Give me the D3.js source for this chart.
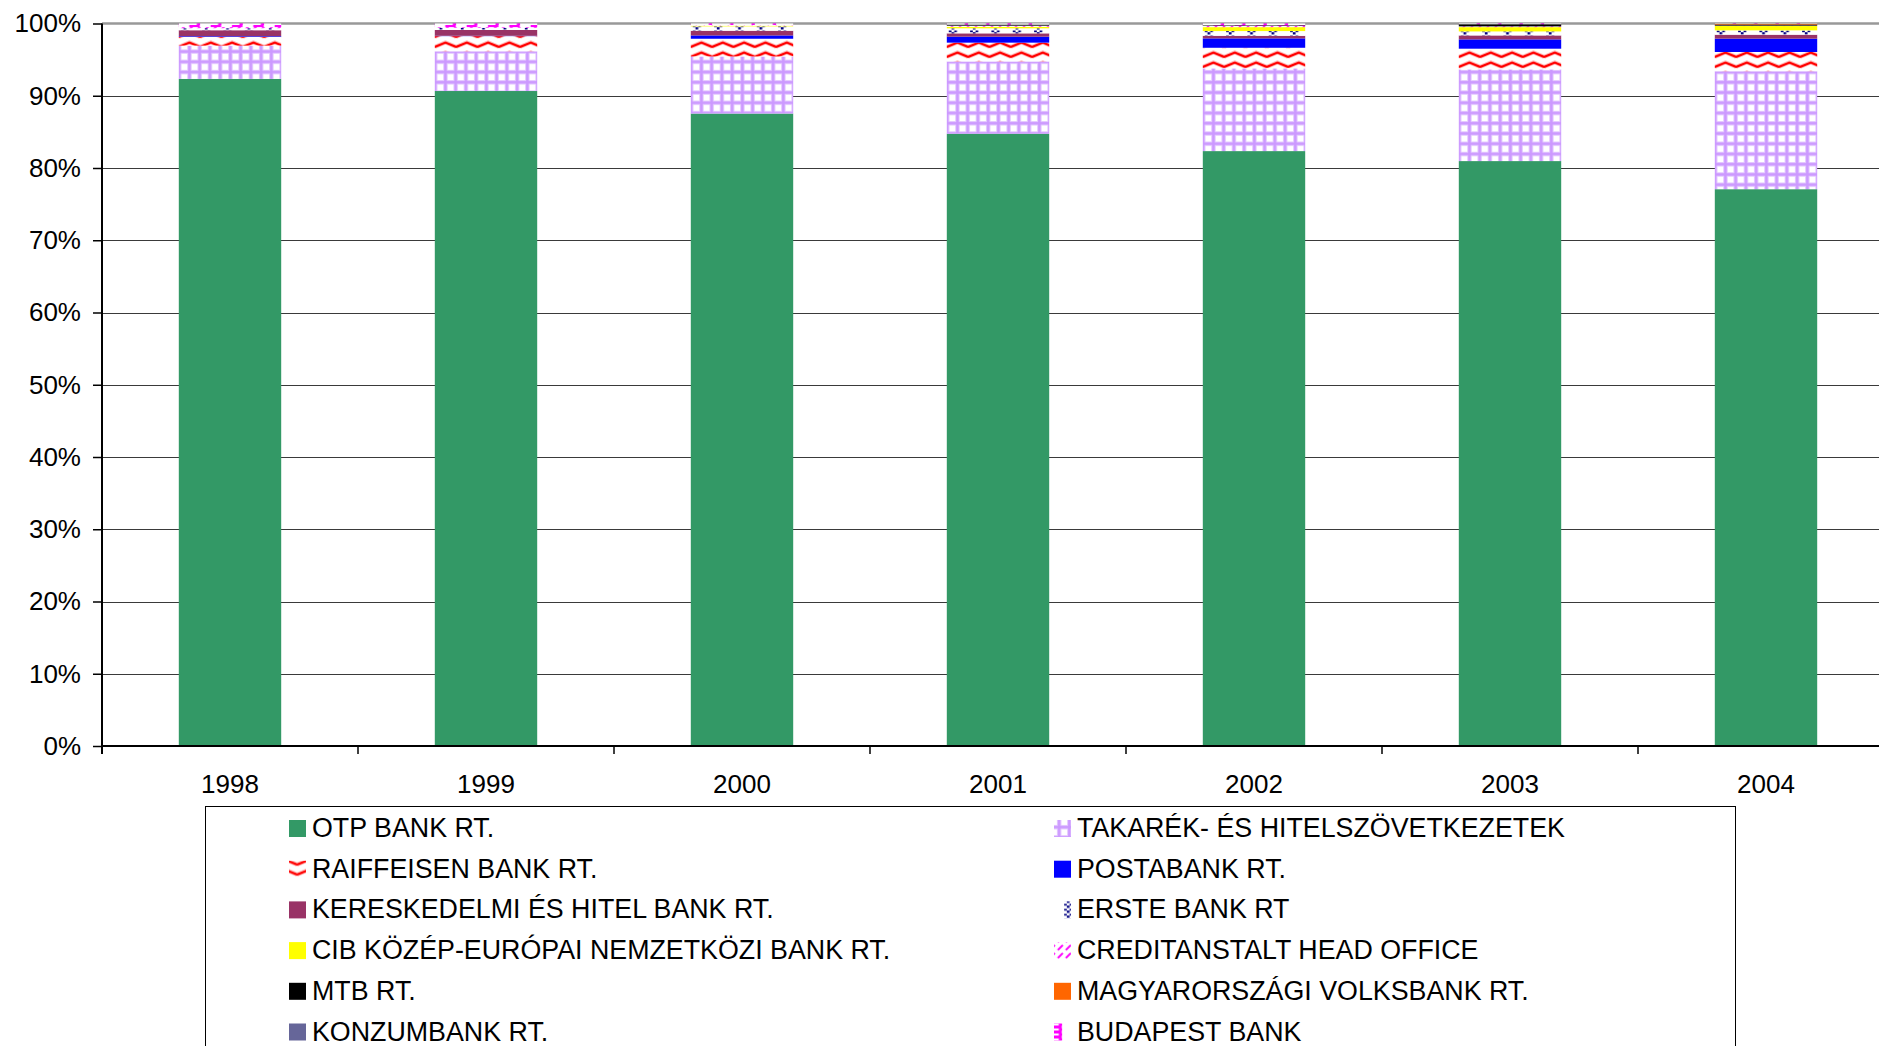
<!DOCTYPE html>
<html>
<head>
<meta charset="utf-8">
<script src="https://cdn.jsdelivr.net/npm/d3@7/dist/d3.min.js"></script>
<style>
  html, body { margin: 0; padding: 0; background: #fff; overflow: hidden; }
  svg { display: block; font-family: "Liberation Sans", Arial, sans-serif; }
</style>
</head>
<body>
<svg id="chart" width="1879" height="1046"></svg>
<script>
// ---------------- data ----------------
const years = ["1998", "1999", "2000", "2001", "2002", "2003", "2004"];
const seriesNames = [
  "OTP BANK RT.",
  "TAKARÉK- ÉS HITELSZÖVETKEZETEK",
  "RAIFFEISEN BANK RT.",
  "POSTABANK RT.",
  "KERESKEDELMI ÉS HITEL BANK RT.",
  "ERSTE BANK RT",
  "CIB KÖZÉP-EURÓPAI NEMZETKÖZI BANK RT.",
  "CREDITANSTALT HEAD OFFICE",
  "MTB RT.",
  "MAGYARORSZÁGI VOLKSBANK RT.",
  "KONZUMBANK RT.",
  "BUDAPEST BANK"
];
const otp           = [92.3, 90.7, 87.5, 84.7, 82.35, 81.0, 77.2];
const takarek       = [4.6, 5.5, 7.9, 10.0, 11.45, 12.7, 16.35];
const raiffeisen    = [1.2, 2.1, 2.45, 2.6, 2.85, 2.86, 2.67];
const postabank     = [0.1, 0.05, 0.46, 0.83, 1.3, 1.29, 1.85];
const kh            = [0.83, 0.8, 0.65, 0.46, 0.36, 0.55, 0.55];
const erste         = [0.28, 0.3, 0.6, 0.69, 0.65, 0.55, 0.6];
const cib           = [0, 0, 0.1, 0.22, 0.55, 0.6, 0.6];
const creditanstalt = [0.15, 0.1, 0.1, 0.15, 0.15, 0.1, 0.05];
const mtb           = [0, 0, 0, 0.15, 0.1, 0.3, 0.15];
const volksbank     = [0, 0, 0, 0, 0, 0, 0.1];
const konzumbank    = [0, 0, 0, 0, 0, 0, 0];
const budapest      = [0.5, 0.5, 0.2, 0.15, 0.25, 0.1, 0.05];
const seriesValues = [otp, takarek, raiffeisen, postabank, kh, erste, cib,
                      creditanstalt, mtb, volksbank, konzumbank, budapest];
const yTicks = [0, 0.1, 0.2, 0.3, 0.4, 0.5, 0.6, 0.7, 0.8, 0.9, 1.0];

// ---------------- setup ----------------
const svg = d3.select("#chart");
const plot = { left: 102, right: 1894, top: 23.5, bottom: 746 };

const x = d3.scaleBand().domain(years).range([plot.left, plot.right])
  .paddingInner(0.6).paddingOuter(0.3);
const y = d3.scaleLinear().domain([0, 1]).range([plot.bottom, plot.top]);
const step = x.step();

const rows = years.map((yr, i) => {
  const r = { year: yr };
  seriesNames.forEach((s, j) => r[s] = seriesValues[j][i]);
  return r;
});
const stacked = d3.stack().keys(seriesNames).offset(d3.stackOffsetExpand)(rows);

// ---------------- patterns ----------------
const defs = svg.append("defs");
const x0 = x(years[0]);
// lavender grid
const gridW = step / 25;
const pg = defs.append("pattern").attr("id", "pGrid").attr("patternUnits", "userSpaceOnUse")
  .attr("x", x0).attr("y", 0).attr("width", gridW).attr("height", gridW);
pg.append("rect").attr("width", gridW).attr("height", gridW).attr("fill", "#cc99ff");
pg.append("rect").attr("x", 1.6).attr("y", 1.6).attr("width", gridW - 2.4).attr("height", gridW - 2.4).attr("fill", "#e4c8ff");
pg.append("rect").attr("x", 2.6).attr("y", 2.6).attr("width", gridW - 4.4).attr("height", gridW - 4.4).attr("fill", "#ffffff");

// red zigzag
const zW = step / 12;
const pz = defs.append("pattern").attr("id", "pZig").attr("patternUnits", "userSpaceOnUse")
  .attr("x", x0).attr("y", 0).attr("width", zW).attr("height", 10);
pz.append("rect").attr("width", zW).attr("height", 10).attr("fill", "#fff");
[["#ffb3b3", 4], ["#ff0000", 2]].forEach(([c, w]) => {
  [-10, 0, 10].forEach(off => {
    pz.append("path").attr("d", `M-0.1,${7 + off} L${zW / 2},${2.5 + off} L${zW + 0.1},${7 + off}`)
      .attr("fill", "none").attr("stroke", c).attr("stroke-width", w);
  });
});

// navy erste
const pe = defs.append("pattern").attr("id", "pErste").attr("patternUnits", "userSpaceOnUse")
  .attr("x", x0).attr("y", 0).attr("width", zW).attr("height", 5);
pe.append("rect").attr("width", zW).attr("height", 5).attr("fill", "#fff");
pe.append("rect").attr("x", 2).attr("y", 0.5).attr("width", 2.7).attr("height", 1.7).attr("fill", "#000080");
pe.append("rect").attr("x", 7.4).attr("y", 0.5).attr("width", 2.7).attr("height", 1.7).attr("fill", "#000080");
pe.append("rect").attr("x", 4.7).attr("y", 2.2).attr("width", 2.7).attr("height", 2.3).attr("fill", "#000080");

// magenta diagonal (creditanstalt)
const pc = defs.append("pattern").attr("id", "pCredit").attr("patternUnits", "userSpaceOnUse")
  .attr("x", x0).attr("y", 0).attr("width", 8).attr("height", 8);
pc.append("rect").attr("width", 8).attr("height", 8).attr("fill", "#fff");
pc.append("path").attr("d", "M1,7 L6,2").attr("stroke", "#ff00ff").attr("stroke-width", 1.8);

// magenta budapest
const pb = defs.append("pattern").attr("id", "pBud").attr("patternUnits", "userSpaceOnUse")
  .attr("x", x0).attr("y", 0).attr("width", zW).attr("height", 5);
pb.append("rect").attr("width", zW).attr("height", 5).attr("fill", "#fff");
pb.append("rect").attr("x", 10.5).attr("y", 0).attr("width", 10.5).attr("height", 3).attr("fill", "#ff00ff");
pb.append("rect").attr("x", 18).attr("y", 3).attr("width", 4.5).attr("height", 2).attr("fill", "#ff00ff");

const fills = ["#339966", "url(#pGrid)", "url(#pZig)", "#0000ff", "#993366", "url(#pErste)",
               "#ffff00", "url(#pCredit)", "#000000", "#ff6600", "#666699", "url(#pBud)"];

// ---------------- gridlines ----------------
svg.append("g").selectAll("line").data(yTicks.filter(t => t > 0 && t < 1)).join("line")
  .attr("x1", plot.left).attr("x2", plot.right)
  .attr("y1", d => Math.round(y(d)) + 0.5).attr("y2", d => Math.round(y(d)) + 0.5)
  .attr("stroke", "#3a3a3a").attr("stroke-width", 1);
svg.append("line").attr("x1", plot.left).attr("x2", plot.right)
  .attr("y1", y(1)).attr("y2", y(1)).attr("stroke", "#999").attr("stroke-width", 2.3);

// ---------------- bars ----------------
svg.append("g").selectAll("g").data(stacked).join("g")
  .attr("fill", (d, i) => fills[i])
  .selectAll("rect").data(d => d).join("rect")
  .attr("x", d => x(d.data.year))
  .attr("width", x.bandwidth())
  .attr("y", d => y(d[1]))
  .attr("height", d => Math.max(0, y(d[0]) - y(d[1])));

// ---------------- axes ----------------
const yAxis = svg.append("g").attr("transform", `translate(${plot.left},0)`)
  .call(d3.axisLeft(y).tickValues(yTicks).tickSize(9).tickPadding(12).tickFormat(d3.format(".0%")));
yAxis.select(".domain").remove();
yAxis.selectAll(".tick line").attr("stroke", "#000").attr("stroke-width", 1.5);
yAxis.selectAll("text").attr("font-size", 26).attr("fill", "#000")
  .attr("font-family", "'Liberation Sans', Arial, sans-serif");

// y axis line
svg.append("line").attr("x1", plot.left).attr("x2", plot.left)
  .attr("y1", plot.top).attr("y2", plot.bottom + 8)
  .attr("stroke", "#000").attr("stroke-width", 2);

// x axis labels
const xAxis = svg.append("g").attr("transform", `translate(0,${plot.bottom})`)
  .call(d3.axisBottom(x).tickSize(0).tickPadding(29));
xAxis.select(".domain").remove();
xAxis.selectAll("text").attr("font-size", 26).attr("fill", "#000")
  .attr("font-family", "'Liberation Sans', Arial, sans-serif");

svg.append("line").attr("x1", plot.left).attr("x2", plot.right)
  .attr("y1", plot.bottom).attr("y2", plot.bottom).attr("stroke", "#000").attr("stroke-width", 2);
// category boundary ticks
const bounds = d3.range(years.length + 1).map(i => plot.left + i * step);
svg.append("g").selectAll("line").data(bounds).join("line")
  .attr("x1", d => d).attr("x2", d => d)
  .attr("y1", plot.bottom).attr("y2", plot.bottom + 8)
  .attr("stroke", "#000").attr("stroke-width", 1.5);

// ---------------- legend ----------------
const lg = svg.append("g");
lg.append("rect").attr("x", 205.5).attr("y", 806.5).attr("width", 1530).attr("height", 300)
  .attr("fill", "#fff").attr("stroke", "#000").attr("stroke-width", 1);
const colX = [289, 1054];
const rowY0 = 837, rowStep = 40.7;
const items = lg.selectAll("g.item").data(seriesNames).join("g").attr("class", "item")
  .attr("transform", (d, i) => `translate(${colX[i % 2]},${rowY0 + Math.floor(i / 2) * rowStep})`);
items.append("rect").attr("x", 0).attr("y", -17).attr("width", 17).attr("height", 17)
  .attr("fill", (d, i) => fills[i]);
items.append("text").attr("x", 23).attr("y", 0).attr("font-size", 26.8).attr("fill", "#000")
  .text(d => d);
</script>
</body>
</html>
